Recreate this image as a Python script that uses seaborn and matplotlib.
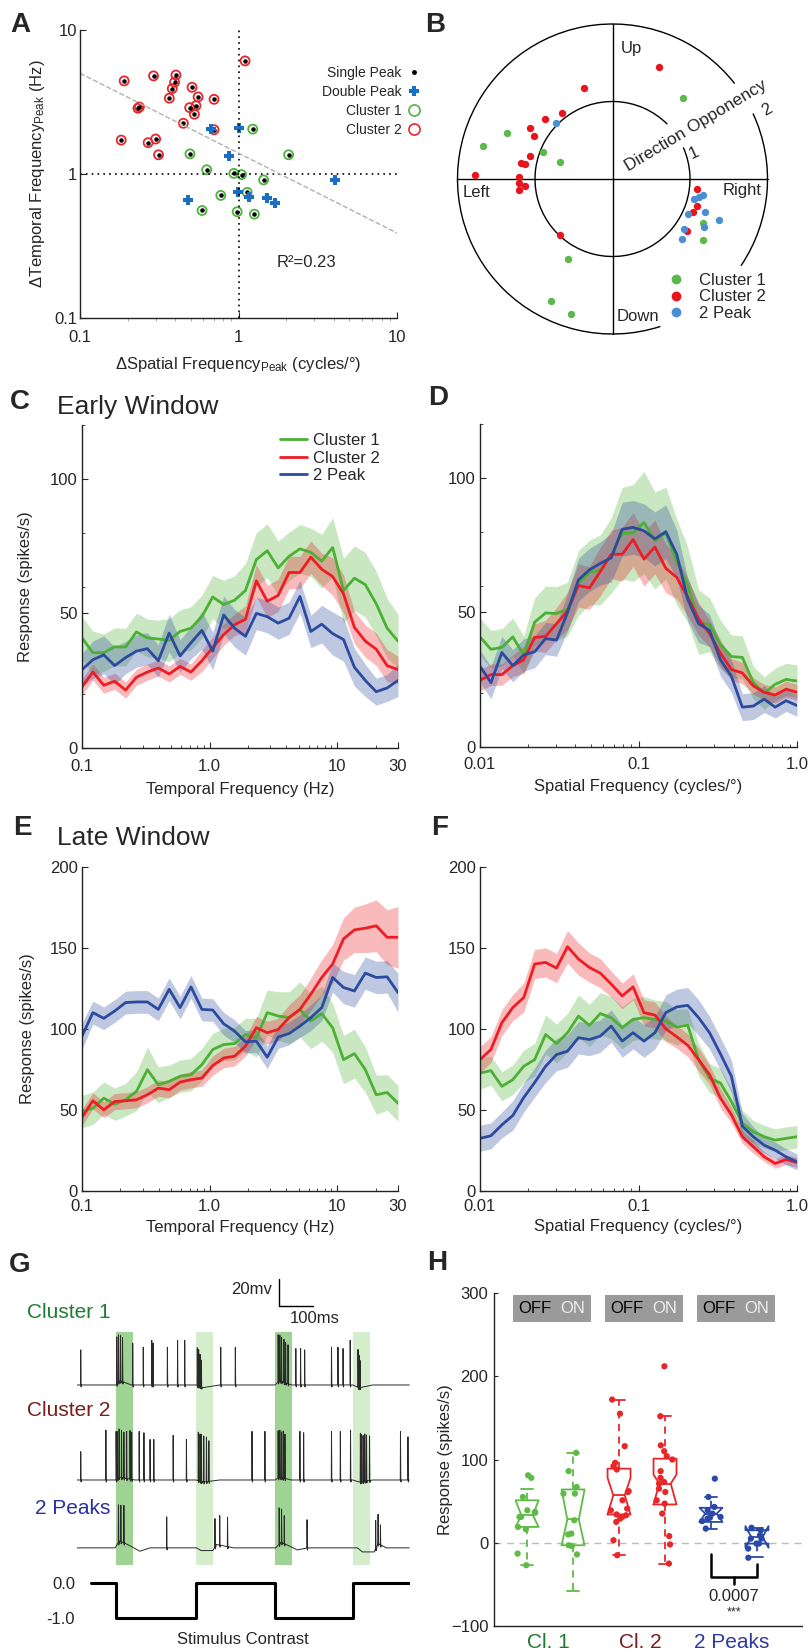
import numpy as np
import pandas as pd
import matplotlib
matplotlib.use("Agg")
import matplotlib.pyplot as plt
import seaborn as sns
from matplotlib.patches import Arc, Rectangle
from matplotlib.lines import Line2D
from matplotlib.ticker import LogLocator, NullFormatter, FixedLocator, NullLocator


# ==============================
# Data
# ==============================

# A: peak differences (cycles/deg, Hz)
a_c2_sf = [0.190, 0.291, 0.403, 0.395, 0.382, 0.509, 0.366, 0.556, 0.701, 0.232, 0.237,
           0.492, 0.539, 0.527, 0.449, 0.701, 0.182, 0.300, 0.269, 0.313, 1.10]
a_c2_tf = [4.43, 4.80, 4.87, 4.34, 3.92, 4.00, 3.36, 3.43, 3.30, 2.86, 2.92,
           2.89, 2.98, 2.60, 2.25, 2.03, 1.72, 1.75, 1.65, 1.36, 6.10]
a_c1_sf = [1.23, 0.494, 0.630, 0.934, 1.045, 2.07, 1.44, 0.773, 1.135, 0.589, 0.981, 1.26]
a_c1_tf = [2.05, 1.38, 1.07, 1.01, 0.99, 1.36, 0.91, 0.71, 0.745, 0.558, 0.547, 0.526]
a_dp_sf = [0.671, 1.005, 0.873, 0.990, 1.168, 1.518, 1.69, 0.480, 4.05]
a_dp_tf = [2.06, 2.09, 1.34, 0.748, 0.691, 0.680, 0.628, 0.655, 0.911]
a_fit_slope = -0.555
a_fit_intercept = 0.145
a_r2 = 0.23

# B: preferred direction (deg) and direction opponency
b_c1_ang = [48.8, 156.3, 165.7, 159.1, 162.1, 241.2, 243.3, 253.0, 334.3, 326.1]
b_c1_r = [1.39, 1.49, 1.72, 0.96, 0.71, 1.18, 1.76, 1.82, 1.30, 1.41]
b_c2_ang = [67.3, 107.1, 127.7, 138.3, 148.0, 151.4, 164.2, 169.9, 170.3, 178.3,
            179.0, 182.2, 184.6, 186.7, 227.2, 353.1, 342.2, 338.0, 325.0]
b_c2_r = [1.56, 1.23, 1.07, 1.17, 1.25, 1.16, 1.10, 1.20, 1.14, 1.78,
          1.21, 1.21, 1.13, 1.22, 0.99, 1.10, 1.14, 1.12, 1.18]
b_2p_ang = [135.4, 346.0, 348.1, 350.1, 340.7, 335.2, 338.7, 332.2, 324.9, 319.2]
b_2p_r = [1.02, 1.08, 1.14, 1.19, 1.27, 1.08, 1.47, 1.33, 1.12, 1.19]

# C-F: tuning curves
tf_hz = [0.1, 0.1217, 0.1482, 0.1804, 0.2196, 0.2674, 0.3255, 0.3962, 0.4824, 0.5872,
         0.7148, 0.8702, 1.059, 1.290, 1.570, 1.911, 2.327, 2.833, 3.449, 4.198,
         5.111, 6.222, 7.574, 9.220, 11.22, 13.66, 16.63, 20.25, 24.65, 30.0]
sf_cpd = [0.01, 0.01172, 0.01374, 0.0161, 0.01888, 0.02213, 0.02594, 0.0304, 0.03565, 0.04179,
          0.04898, 0.05741, 0.0673, 0.0789, 0.0924, 0.1083, 0.1269, 0.1487, 0.1743, 0.2043,
          0.2394, 0.2807, 0.329, 0.3856, 0.452, 0.5298, 0.621, 0.7279, 0.8532, 1.0]

early_tf_c1 = [40.9, 35.4, 35.4, 37.6, 37.5, 43.1, 40.9, 40.5, 40.0, 43.3, 44.5, 48.8, 56.1, 53.3, 54.9,
               58.5, 70.0, 73.3, 66.9, 71.2, 74.0, 72.7, 69.4, 74.5, 58.5, 63.1, 60.7, 53.6, 44.5, 39.7]
early_tf_c1_sem = [8, 8, 7, 7, 7, 7, 7, 7, 8, 8, 8, 8, 8, 9, 9, 10, 10, 10, 10, 9, 9, 9, 10, 11, 12, 12, 12, 12, 11, 10]
early_tf_c2 = [22.7, 28.2, 23.3, 24.8, 21.5, 26.3, 28.2, 29.7, 27.5, 30.3, 28.2, 32.4, 37.3, 42.1, 45.8,
               47.8, 62.1, 54.5, 56.7, 65.2, 65.2, 70.9, 66.4, 63.7, 57.3, 44.8, 39.7, 36.7, 30.6, 29.1]
early_tf_c2_sem = [3, 3, 3, 3, 3, 3, 3, 3, 3, 3, 3, 4, 4, 4, 4, 5, 6, 6, 6, 6, 6, 6, 6, 7, 7, 6, 6, 6, 6, 5]
early_tf_2p = [29.1, 32.8, 34.6, 30.6, 33.6, 36.0, 36.9, 32.4, 42.7, 34.2, 39.1, 43.7, 36.0, 49.4, 44.5,
               41.5, 50.0, 48.8, 46.4, 48.2, 56.3, 43.3, 46.0, 42.5, 40.3, 30.0, 25.1, 20.9, 22.3, 25.1]
early_tf_2p_sem = [6, 7, 7, 7, 6, 6, 6, 6, 7, 6, 6, 7, 7, 7, 7, 7, 6, 6, 6, 6, 6, 6, 7, 8, 8, 7, 6, 5, 5, 6]

early_sf_c1 = [40.9, 36.3, 37.0, 40.9, 34.2, 46.4, 49.8, 49.6, 51.2, 60.9, 64.8, 65.8, 71.2, 79.4, 79.5,
               83.4, 76.7, 79.5, 68.8, 60.3, 46.4, 45.4, 38.1, 33.6, 33.3, 23.9, 20.0, 23.3, 25.1, 24.5]
early_sf_c1_sem = [7, 7, 7, 7, 7, 9, 10, 10, 10, 12, 12, 13, 14, 17, 18, 19, 18, 17, 16, 14, 12, 10, 9, 8, 8, 6, 6, 6, 6, 6]
early_sf_c2 = [24.8, 26.9, 26.9, 30.2, 32.4, 40.7, 41.1, 45.8, 50.6, 60.0, 59.1, 65.2, 71.6, 71.6, 77.1,
               69.8, 74.3, 66.4, 63.0, 55.7, 47.6, 42.1, 34.8, 28.8, 27.5, 22.7, 20.3, 19.3, 21.5, 20.3]
early_sf_c2_sem = [4, 4, 4, 4, 5, 5, 6, 6, 7, 8, 8, 9, 9, 10, 10, 10, 10, 9, 8, 7, 6, 5, 5, 4, 4, 3, 3, 3, 3, 3]
early_sf_2p = [30.0, 23.9, 35.1, 30.2, 34.2, 35.4, 40.3, 39.7, 50.0, 62.1, 65.8, 68.2, 70.3, 80.9, 81.6,
               80.3, 77.3, 80.0, 71.6, 54.9, 45.8, 43.3, 32.4, 26.3, 14.8, 15.2, 17.8, 14.8, 17.2, 15.4]
early_sf_2p_sem = [6, 6, 6, 6, 6, 6, 6, 6, 7, 8, 8, 8, 9, 10, 10, 10, 10, 10, 9, 8, 7, 6, 6, 6, 5, 5, 5, 4, 4, 4]

late_tf_c1 = [49.0, 51.1, 57.3, 53.6, 56.3, 61.5, 74.9, 65.6, 67.7, 70.8, 71.8, 78.0, 87.3, 90.4, 91.0,
              96.6, 94.6, 110.1, 108.0, 107.0, 112.1, 104.9, 109.5, 100.8, 81.1, 84.8, 74.9, 59.4, 60.8, 54.2]
late_tf_c1_sem = [10, 10, 10, 10, 10, 12, 14, 11, 10, 10, 10, 10, 10, 10, 10, 10, 12, 14, 15, 16, 17, 17, 17, 15, 15, 15, 14, 12, 11, 11]
late_tf_c2 = [45.5, 55.7, 50.1, 55.2, 55.7, 56.3, 59.4, 63.5, 62.5, 67.2, 68.7, 69.7, 77.4, 82.1, 83.2,
              89.4, 100.8, 97.7, 99.7, 107.0, 112.1, 121.5, 131.8, 140.1, 155.6, 161.2, 162.2, 163.7, 156.6, 156.6]
late_tf_c2_sem = [5, 5, 5, 5, 5, 5, 5, 5, 5, 5, 5, 5, 6, 6, 6, 6, 7, 7, 7, 8, 9, 10, 11, 12, 13, 14, 15, 16, 17, 19]
late_tf_2p = [95.6, 110.1, 106.6, 111.1, 116.3, 116.7, 116.7, 112.1, 124.5, 113.2, 126.0, 112.1, 111.7, 103.2, 98.7,
              92.1, 92.5, 82.6, 95.0, 97.2, 101.8, 107.0, 113.2, 131.8, 125.6, 123.5, 134.5, 131.8, 132.2, 122.5]
late_tf_2p_sem = [8, 7, 7, 7, 7, 7, 7, 7, 7, 7, 7, 7, 7, 7, 7, 7, 7, 7, 7, 7, 7, 8, 8, 9, 10, 10, 10, 10, 10, 12]

late_sf_c1 = [72.8, 74.3, 64.6, 68.7, 77.0, 81.1, 96.6, 91.0, 97.7, 108.0, 102.2, 109.5, 107.0, 100.8, 105.9,
              107.0, 105.9, 104.9, 101.2, 102.4, 81.1, 69.7, 66.6, 55.2, 41.8, 36.6, 33.5, 31.4, 32.5, 33.5]
late_sf_c1_sem = [10, 9, 9, 9, 10, 10, 12, 12, 12, 13, 13, 13, 13, 13, 13, 13, 12, 12, 11, 10, 10, 9, 9, 8, 8, 7, 7, 7, 7, 7]
late_sf_c2 = [81.1, 87.3, 103.9, 113.2, 119.4, 140.1, 141.1, 137.6, 150.8, 143.2, 138.0, 134.5, 127.7, 120.4, 126.0,
              110.1, 108.6, 100.1, 95.2, 90.0, 81.1, 71.8, 57.3, 47.0, 33.5, 27.3, 21.1, 17.0, 19.4, 17.6]
late_sf_c2_sem = [8, 8, 8, 8, 9, 9, 9, 9, 10, 10, 9, 9, 8, 8, 8, 8, 8, 8, 7, 7, 7, 6, 6, 5, 4, 4, 3, 3, 3, 3]
late_sf_2p = [32.5, 34.1, 40.8, 46.6, 57.7, 67.0, 77.0, 84.2, 86.3, 94.6, 93.5, 95.6, 101.8, 92.5, 97.7,
              92.5, 97.7, 110.1, 113.6, 114.6, 107.0, 97.7, 84.6, 70.8, 40.0, 33.5, 28.3, 25.2, 21.1, 18.0]
late_sf_2p_sem = [8, 8, 8, 9, 9, 9, 10, 10, 10, 10, 10, 10, 10, 10, 10, 10, 10, 11, 11, 11, 11, 10, 10, 10, 8, 6, 5, 5, 5, 5]

# G: example recordings (ms, mV)
cl1_spk_t = [11, 117, 122, 128, 134, 164, 195, 220, 224, 266,
             296, 317, 354, 358, 362, 366, 423, 466, 592, 597,
             602, 609, 614, 621, 644, 658, 670, 749, 768, 783,
             804, 827, 830, 833]
cl1_spk_h = [26, 35, 35, 34, 33, 31, 28, 33, 31, 28,
             33, 33, 28, 27, 24, 20, 28, 28, 35, 34,
             33, 32, 30, 29, 27, 27, 26, 28, 28, 27,
             33, 28, 24, 20]
cl1_slow_t = [0, 115, 125, 160, 350, 370, 420, 583, 595, 630, 812, 830, 870, 978]
cl1_slow_v = [0, 0, 3, 0, 0, -2, 0, 0, 3, 0, 0, -2, 0, 0]

cl2_spk_t = [11, 85, 115, 119, 124, 131, 138, 146, 156, 161,
             183, 197, 215, 226, 283, 322, 357, 362, 366, 373,
             381, 388, 515, 553, 592, 597, 602, 607, 612, 656,
             667, 749, 775, 805, 834, 837, 842, 847, 852, 861,
             952, 974]
cl2_spk_h = [21, 37, 36, 35, 36, 35, 34, 35, 36, 35,
             36, 35, 30, 30, 33, 30, 36, 35, 35, 34,
             33, 30, 36, 36, 35, 35, 34, 35, 33, 36,
             35, 36, 36, 37, 36, 35, 34, 35, 34, 33,
             36, 32]
cl2_slow_t = [0, 115, 125, 170, 350, 370, 420, 583, 595, 630, 812, 830, 870, 978]
cl2_slow_v = [0, 0, 2, 0, 0, -1.5, 0, 0, 2, 0, 0, -1.5, 0, 0]

p2_spk_t = [122, 129, 138, 264, 406, 420, 443, 595, 602, 610, 677, 879, 886, 893]
p2_spk_h = [28, 27, 28, 23, 21, 22, 22, 27, 25, 21, 21, 21, 22, 15]
p2_slow_t = [0, 112, 125, 160, 185, 215, 352, 365, 400, 410, 460,
             585, 600, 636, 648, 680, 825, 840, 875, 885, 910, 978]
p2_slow_v = [0, 0, 5, 1, -2.5, 0, 0, -2, -2, 2.5, 0,
             0, 4, 0, -1.5, 0, 0, -3, -3, 3, 0, 0]

stim_t = [41, 115, 350, 583, 812, 980]
stim_v = [0, -1, 0, -1, 0, 0]
band_t = [115, 350, 583, 812]
band_dark = [True, False, True, False]
band_w = 50

# H: OFF / ON responses
h_order = ["Cl1 OFF", "Cl1 ON", "Cl2 OFF", "Cl2 ON", "2P OFF", "2P ON"]
h_cl1_off = [81, 78, 55, 39, 37, 36, 31, 31, 19, 16, -13, -27]
h_cl1_on = [108, 86, 67, 59, 59, 27, 10, 11, -3, -14, -4]
h_cl2_off = [172, 155, 116, 96, 92, 88, 61, 62, 51, 41, 33, 34, 39, 31, 29, 25, 3, -15]
h_cl2_on = [212, 152, 117, 110, 100, 104, 86, 78, 73, 71, 65, 61, 51, 47, 35, 8, -2, -25]
h_2p_off = [77, 55, 43, 39, 35, 29, 30, 26, 17, 31]
h_2p_on = [18, 15, 9, 5, -1, -1, -7, -18, 5]
box_med = [33, 28, 57, 71, 35, 7]
box_q1 = [19, -3, 34, 46, 25, -1]
box_q3 = [51, 64, 89, 101, 42, 15]
box_lo = [-27, -58, -15, -25, 17, -17]
box_hi = [65, 108, 172, 152, 55, 18]
box_cilo = [19, -3, 34, 46, 25, -6]
box_cihi = [51, 64, 78, 82, 42, 20]
h_pval = "0.0007"


# ==============================
# Style
# ==============================

sns.set_style("ticks")
plt.rcParams["font.family"] = ["Liberation Sans", "DejaVu Sans"]
plt.rcParams["mathtext.fontset"] = "custom"
plt.rcParams["mathtext.rm"] = "Liberation Sans"
plt.rcParams["mathtext.it"] = "Liberation Sans:italic"
plt.rcParams["axes.linewidth"] = 1.0
plt.rcParams["axes.edgecolor"] = "#222222"

GREEN = "#4cb034"
RED = "#ee1c24"
BLUE = "#2c4b9e"

W, H = 808, 1652
fig = plt.figure(figsize=(W / 100, H / 100), dpi=100)


def add_ax(l, t, r, b):
    return fig.add_axes([l / W, 1 - b / H, (r - l) / W, (b - t) / H])


def ftext(x, y, s, **kw):
    fig.text(x / W, 1 - y / H, s, **kw)


for letter, x, y in [("A", 20, 25), ("B", 435, 25), ("C", 20, 402), ("D", 438, 398),
                     ("E", 22, 828), ("F", 440, 828), ("G", 20, 1265), ("H", 437, 1263)]:
    ftext(x, y, letter, ha="center", va="center", fontsize=20, fontweight="bold")


# ==============================
# A: scatter
# ==============================

axA = add_ax(80, 30, 397, 318)
axA.set_xscale("log")
axA.set_yscale("log")
axA.set_xlim(0.1, 10)
axA.set_ylim(0.1, 10)
axA.axvline(1, color="k", ls=(0, (1, 2.5)), lw=1.2)
axA.axhline(1, color="k", ls=(0, (1, 2.5)), lw=1.2)
fit_x = np.array([0.1, 10])
axA.plot(fit_x, 10 ** (a_fit_intercept + a_fit_slope * np.log10(fit_x)),
         ls="--", color="#b0b0b0", lw=1)
axA.scatter(a_c2_sf, a_c2_tf, s=42, facecolors="none", edgecolors="#e8262a", linewidths=1.3)
axA.scatter(a_c1_sf, a_c1_tf, s=42, facecolors="none", edgecolors="#4db33d", linewidths=1.3)
axA.scatter(a_c2_sf + a_c1_sf, a_c2_tf + a_c1_tf, s=5, color="k")
axA.scatter(a_dp_sf, a_dp_tf, marker="P", s=45, color="#1a6fc4", linewidths=0)
axA.text(0.62, 0.194, f"R\u00b2={a_r2}", transform=axA.transAxes, fontsize=12, va="center")
handles = [Line2D([], [], marker="o", ls="none", color="k", markersize=2.5),
           Line2D([], [], marker="P", ls="none", color="#1a6fc4", markersize=7, mew=0),
           Line2D([], [], marker="o", ls="none", mfc="none", mec="#4db33d", markersize=8, mew=1.2),
           Line2D([], [], marker="o", ls="none", mfc="none", mec="#e8262a", markersize=8, mew=1.2)]
axA.legend(handles, ["Single Peak", "Double Peak", "Cluster 1", "Cluster 2"],
           loc="upper left", bbox_to_anchor=(0.763, 0.875), markerfirst=False, frameon=False,
           fontsize=10, handlelength=1.0, handletextpad=0.4, labelspacing=0.35,
           borderpad=0, borderaxespad=0)
axA.set_xticks([0.1, 1, 10])
axA.set_xticklabels(["0.1", "1", "10"])
axA.set_yticks([0.1, 1, 10])
axA.set_yticklabels(["0.1", "1", "10"])
axA.xaxis.set_minor_locator(LogLocator(base=10, subs=np.arange(2, 10)))
axA.xaxis.set_minor_formatter(NullFormatter())
axA.yaxis.set_minor_locator(NullLocator())
axA.tick_params(which="major", direction="in", length=4, labelsize=12)
axA.tick_params(axis="x", which="major", pad=9)
axA.tick_params(axis="y", which="major", pad=2)
axA.tick_params(which="minor", direction="out", length=2.5, color="#999999")
axA.set_xlabel("\u0394Spatial Frequency$_{\\rm Peak}$ (cycles/\u00b0)", fontsize=12)
axA.set_ylabel("\u0394Temporal Frequency$_{\\rm Peak}$ (Hz)", fontsize=12)
axA.xaxis.set_label_coords(0.5, -0.128)
axA.yaxis.set_label_coords(-0.104, 0.5)
sns.despine(ax=axA)


# ==============================
# B: direction / opponency
# ==============================

axB = add_ax(447.5, 14, 777.5, 344)
lim = 2.129
axB.set_xlim(-lim, lim)
axB.set_ylim(-lim, lim)
axB.set_aspect("equal")
axB.axis("off")
for th1, th2, d in [(38, 288, 4), (326, 385, 4), (45, 384, 2)]:
    axB.add_patch(Arc((0, 0), d, d, theta1=th1, theta2=th2, color="k", lw=1))
axB.plot([-2, 2], [0, 0], color="k", lw=1)
axB.plot([0, 0], [-2, 2], color="k", lw=1)
for ang, r, col in [(b_c1_ang, b_c1_r, "#5cb84a"), (b_c2_ang, b_c2_r, "#e8141c"),
                    (b_2p_ang, b_2p_r, "#4a8fd4")]:
    th = np.deg2rad(ang)
    axB.scatter(np.array(r) * np.cos(th), np.array(r) * np.sin(th), s=28, color=col,
                linewidths=0, zorder=3)
axB.text(0.1, 1.68, "Up", fontsize=12, ha="left", va="center")
axB.text(0.05, -1.77, "Down", fontsize=12, ha="left", va="center")
axB.text(-1.94, -0.18, "Left", fontsize=12, ha="left", va="center")
axB.text(1.92, -0.15, "Right", fontsize=12, ha="right", va="center")
axB.text(1.08, 0.69, "Direction Opponency", fontsize=12.5, rotation=31,
         rotation_mode="anchor", ha="center", va="center")
axB.text(1.05, 0.33, "1", fontsize=12, rotation=25, ha="center", va="center")
axB.text(1.99, 0.89, "2", fontsize=12, rotation=30, ha="center", va="center")
bh = [Line2D([], [], marker="o", ls="none", color=c, markersize=6)
      for c in ["#5cb84a", "#e8141c", "#4a8fd4"]]
axB.legend(bh, ["Cluster 1", "Cluster 2", "2 Peak"], loc="upper left",
           bbox_to_anchor=(0.672, 0.215), frameon=False, fontsize=12, handlelength=0.8,
           handletextpad=1.0, labelspacing=0.08, borderpad=0, borderaxespad=0)


# ==============================
# C-F: tuning curves
# ==============================

def tuning_panel(ax, x, curves, with_label=False):
    for y, sem, col, lab in curves:
        y = np.asarray(y, float)
        sem = np.asarray(sem, float)
        ax.fill_between(x, y - sem, y + sem, color=col, alpha=0.3, lw=0)
    for y, sem, col, lab in curves:
        sns.lineplot(x=x, y=y, color=col, lw=2.0, ax=ax, label=lab if with_label else None)
    ax.set_xscale("log")
    ax.xaxis.set_minor_locator(LogLocator(base=10, subs=np.arange(2, 10)))
    ax.xaxis.set_minor_formatter(NullFormatter())
    ax.tick_params(which="major", direction="in", length=4, labelsize=12)
    ax.tick_params(which="minor", direction="in", length=2.5)
    ax.tick_params(axis="y", pad=3)
    sns.despine(ax=ax)


axC = add_ax(82, 425, 398, 748)
tuning_panel(axC, tf_hz, [(early_tf_c1, early_tf_c1_sem, GREEN, "Cluster 1"),
                          (early_tf_c2, early_tf_c2_sem, RED, "Cluster 2"),
                          (early_tf_2p, early_tf_2p_sem, BLUE, "2 Peak")], with_label=True)
axC.legend(loc="upper left", bbox_to_anchor=(0.627, 0.975), frameon=False, fontsize=12,
           handlelength=1.6, handletextpad=0.35, labelspacing=0.15, borderpad=0, borderaxespad=0)

axD = add_ax(480, 424, 797, 747)
tuning_panel(axD, sf_cpd, [(early_sf_c1, early_sf_c1_sem, GREEN, None),
                           (early_sf_c2, early_sf_c2_sem, RED, None),
                           (early_sf_2p, early_sf_2p_sem, BLUE, None)])

axE = add_ax(82, 867, 398, 1191)
tuning_panel(axE, tf_hz, [(late_tf_c1, late_tf_c1_sem, GREEN, None),
                          (late_tf_c2, late_tf_c2_sem, RED, None),
                          (late_tf_2p, late_tf_2p_sem, BLUE, None)])

axF = add_ax(480, 867, 797, 1191)
tuning_panel(axF, sf_cpd, [(late_sf_c1, late_sf_c1_sem, GREEN, None),
                           (late_sf_c2, late_sf_c2_sem, RED, None),
                           (late_sf_2p, late_sf_2p_sem, BLUE, None)])

for ax in (axC, axE):
    ax.set_xlim(0.1, 30)
    ax.set_xticks([0.1, 1, 10, 30])
    ax.set_xticklabels(["0.1", "1.0", "10", "30"])
    ax.set_xlabel("Temporal Frequency (Hz)", fontsize=12)
for ax in (axD, axF):
    ax.set_xlim(0.01, 1)
    ax.set_xticks([0.01, 0.1, 1])
    ax.set_xticklabels(["0.01", "0.1", "1.0"])
    ax.set_xlabel("Spatial Frequency (cycles/\u00b0)", fontsize=12)
for ax in (axC, axD):
    ax.set_ylim(0, 120)
    ax.set_yticks([0, 50, 100])
    ax.yaxis.set_minor_locator(FixedLocator([20, 60, 80, 120]))
for ax in (axE, axF):
    ax.set_ylim(0, 200)
    ax.set_yticks([0, 50, 100, 150, 200])
    ax.yaxis.set_minor_locator(NullLocator())

axC.tick_params(axis="x", which="major", pad=8)
axD.tick_params(axis="x", which="major", pad=7)
axE.tick_params(axis="x", which="major", pad=6)
axF.tick_params(axis="x", which="major", pad=6)
axC.xaxis.set_label_coords(0.5, -0.105)
axD.xaxis.set_label_coords(0.5, -0.098)
axE.xaxis.set_label_coords(0.5, -0.088)
axF.xaxis.set_label_coords(0.5, -0.086)
axC.set_ylabel("Response (spikes/s)", fontsize=12)
axE.set_ylabel("Response (spikes/s)", fontsize=12)
axC.yaxis.set_label_coords(-0.155, 0.5)
axE.yaxis.set_label_coords(-0.149, 0.5)
ftext(57, 407, "Early Window", fontsize=19, ha="left", va="center")
ftext(57, 838, "Late Window", fontsize=19, ha="left", va="center")


# ==============================
# G: example traces
# ==============================

def build_trace(spk_t, spk_h, slow_t, slow_v, offset):
    pts = list(zip(slow_t, slow_v))
    for s, h in zip(spk_t, spk_h):
        b = np.interp(s, slow_t, slow_v)
        pts += [(s - 0.6, b), (s, b + h), (s + 1.0, b - 1.5), (s + 2.5, b)]
    pts.sort()
    t, v = zip(*pts)
    return np.array(t), np.array(v) + offset


axG = add_ax(77, 1265, 410, 1570)
axG.set_xlim(0, 980)
axG.set_ylim(-226, 0)
axG.axis("off")
for t0, dark in zip(band_t, band_dark):
    axG.axvspan(t0, t0 + band_w, ymin=0.017, ymax=0.780,
                color="#9fd394" if dark else "#d4edca", lw=0, zorder=0)
for spk_t, spk_h, slow_t, slow_v, off in [
        (cl1_spk_t, cl1_spk_h, cl1_slow_t, cl1_slow_v, -88.9),
        (cl2_spk_t, cl2_spk_h, cl2_slow_t, cl2_slow_v, -159.3),
        (p2_spk_t, p2_spk_h, p2_slow_t, p2_slow_v, -209.6)]:
    t, v = build_trace(spk_t, spk_h, slow_t, slow_v, off)
    axG.plot(t, v, color="#2a2a2a", lw=0.7)
axG.plot([594, 594, 694], [-10.4, -30.4, -30.4], color="k", lw=1)
axG.text(574, -18.5, "20mv", ha="right", va="center", fontsize=12)
axG.text(627, -40, "100ms", ha="left", va="center", fontsize=12)
ftext(110, 1313, "Cluster 1", ha="right", va="center", fontsize=15, color="#1e7d32")
ftext(110, 1410, "Cluster 2", ha="right", va="center", fontsize=15, color="#7b1c1c")
ftext(110, 1508, "2 Peaks", ha="right", va="center", fontsize=15, color="#2b2f9e")

axS = add_ax(77, 1573, 410, 1628)
axS.set_xlim(0, 980)
axS.set_ylim(-1.286, 0.286)
axS.plot(stim_t, stim_v, drawstyle="steps-post", color="k", lw=2.2)
for sp in axS.spines.values():
    sp.set_visible(False)
axS.set_xticks([])
axS.set_yticks([0, -1])
axS.set_yticklabels(["0.0", "-1.0"])
axS.tick_params(axis="y", length=0, pad=1.5, labelsize=12)
ftext(243, 1639, "Stimulus Contrast", ha="center", va="center", fontsize=12)


# ==============================
# H: OFF / ON box plots
# ==============================

axH = add_ax(494, 1293, 802, 1626)
h_cols = ["#5dbb46", "#5dbb46", "#e8262a", "#e8262a", "#2a48a8", "#2a48a8"]
h_vals = [h_cl1_off, h_cl1_on, h_cl2_off, h_cl2_on, h_2p_off, h_2p_on]
df = pd.DataFrame({"cond": [c for c, v in zip(h_order, h_vals) for _ in v],
                   "resp": [x for v in h_vals for x in v]})
np.random.seed(3)
sns.stripplot(data=df, x="cond", y="resp", hue="cond", order=h_order, hue_order=h_order,
              palette=dict(zip(h_order, h_cols)), jitter=0.22, size=4.5, linewidth=0,
              legend=False, ax=axH, zorder=3)
stats = [dict(med=m, q1=a, q3=b, whislo=lo, whishi=hi, cilo=cl, cihi=ch, fliers=[])
         for m, a, b, lo, hi, cl, ch in zip(box_med, box_q1, box_q3, box_lo, box_hi,
                                            box_cilo, box_cihi)]
for i, (st, col) in enumerate(zip(stats, h_cols)):
    axH.bxp([st], positions=[i], widths=0.5, shownotches=True, showfliers=False,
            manage_ticks=False,
            boxprops=dict(color=col, lw=1.3),
            medianprops=dict(color=col, lw=1.3),
            whiskerprops=dict(color=col, lw=1.3, ls=(0, (4, 3))),
            capprops=dict(color=col, lw=1.3))
axH.axhline(0, ls=(0, (5, 4)), color="#bbbbbb", lw=1, zorder=0)
axH.set_xlim(-0.72, 5.98)
axH.set_ylim(-100, 300)
axH.set_yticks([-100, 0, 100, 200, 300])
axH.set_xticks([])
axH.set_xlabel("")
axH.set_ylabel("Response (spikes/s)", fontsize=12)
axH.yaxis.set_label_coords(-0.133, 0.5)
axH.tick_params(axis="y", direction="in", length=3, labelsize=12, pad=4)
sns.despine(ax=axH)

pair_centers = [0.5, 2.5, 4.5]
for c in pair_centers:
    axH.add_patch(Rectangle((c - 0.8, 265), 1.7, 32, color="#9a9a9a", lw=0))
    axH.text(c - 0.33, 281, "OFF", ha="center", va="center", fontsize=12, color="k")
    axH.text(c + 0.5, 281, "ON", ha="center", va="center", fontsize=12, color="#eeeeee")
for c, lab, col in zip(pair_centers, ["Cl. 1", "Cl. 2", "2 Peaks"],
                       ["#1f7a30", "#7a1a1a", "#2b3aa0"]):
    axH.text(c - 0.04, -0.021, lab, transform=axH.get_xaxis_transform(), ha="center",
             va="top", fontsize=15, color=col)
axH.plot([4, 4, 5, 5], [-13, -41, -41, -25], color="k", lw=1.8)
axH.plot([4.5, 4.5], [-41, -49], color="k", lw=1.8)
axH.text(4.5, -65, h_pval, ha="center", va="center", fontsize=12)
axH.text(4.5, -84, "***", ha="center", va="center", fontsize=9)

fig.savefig("out.png", dpi=100)
